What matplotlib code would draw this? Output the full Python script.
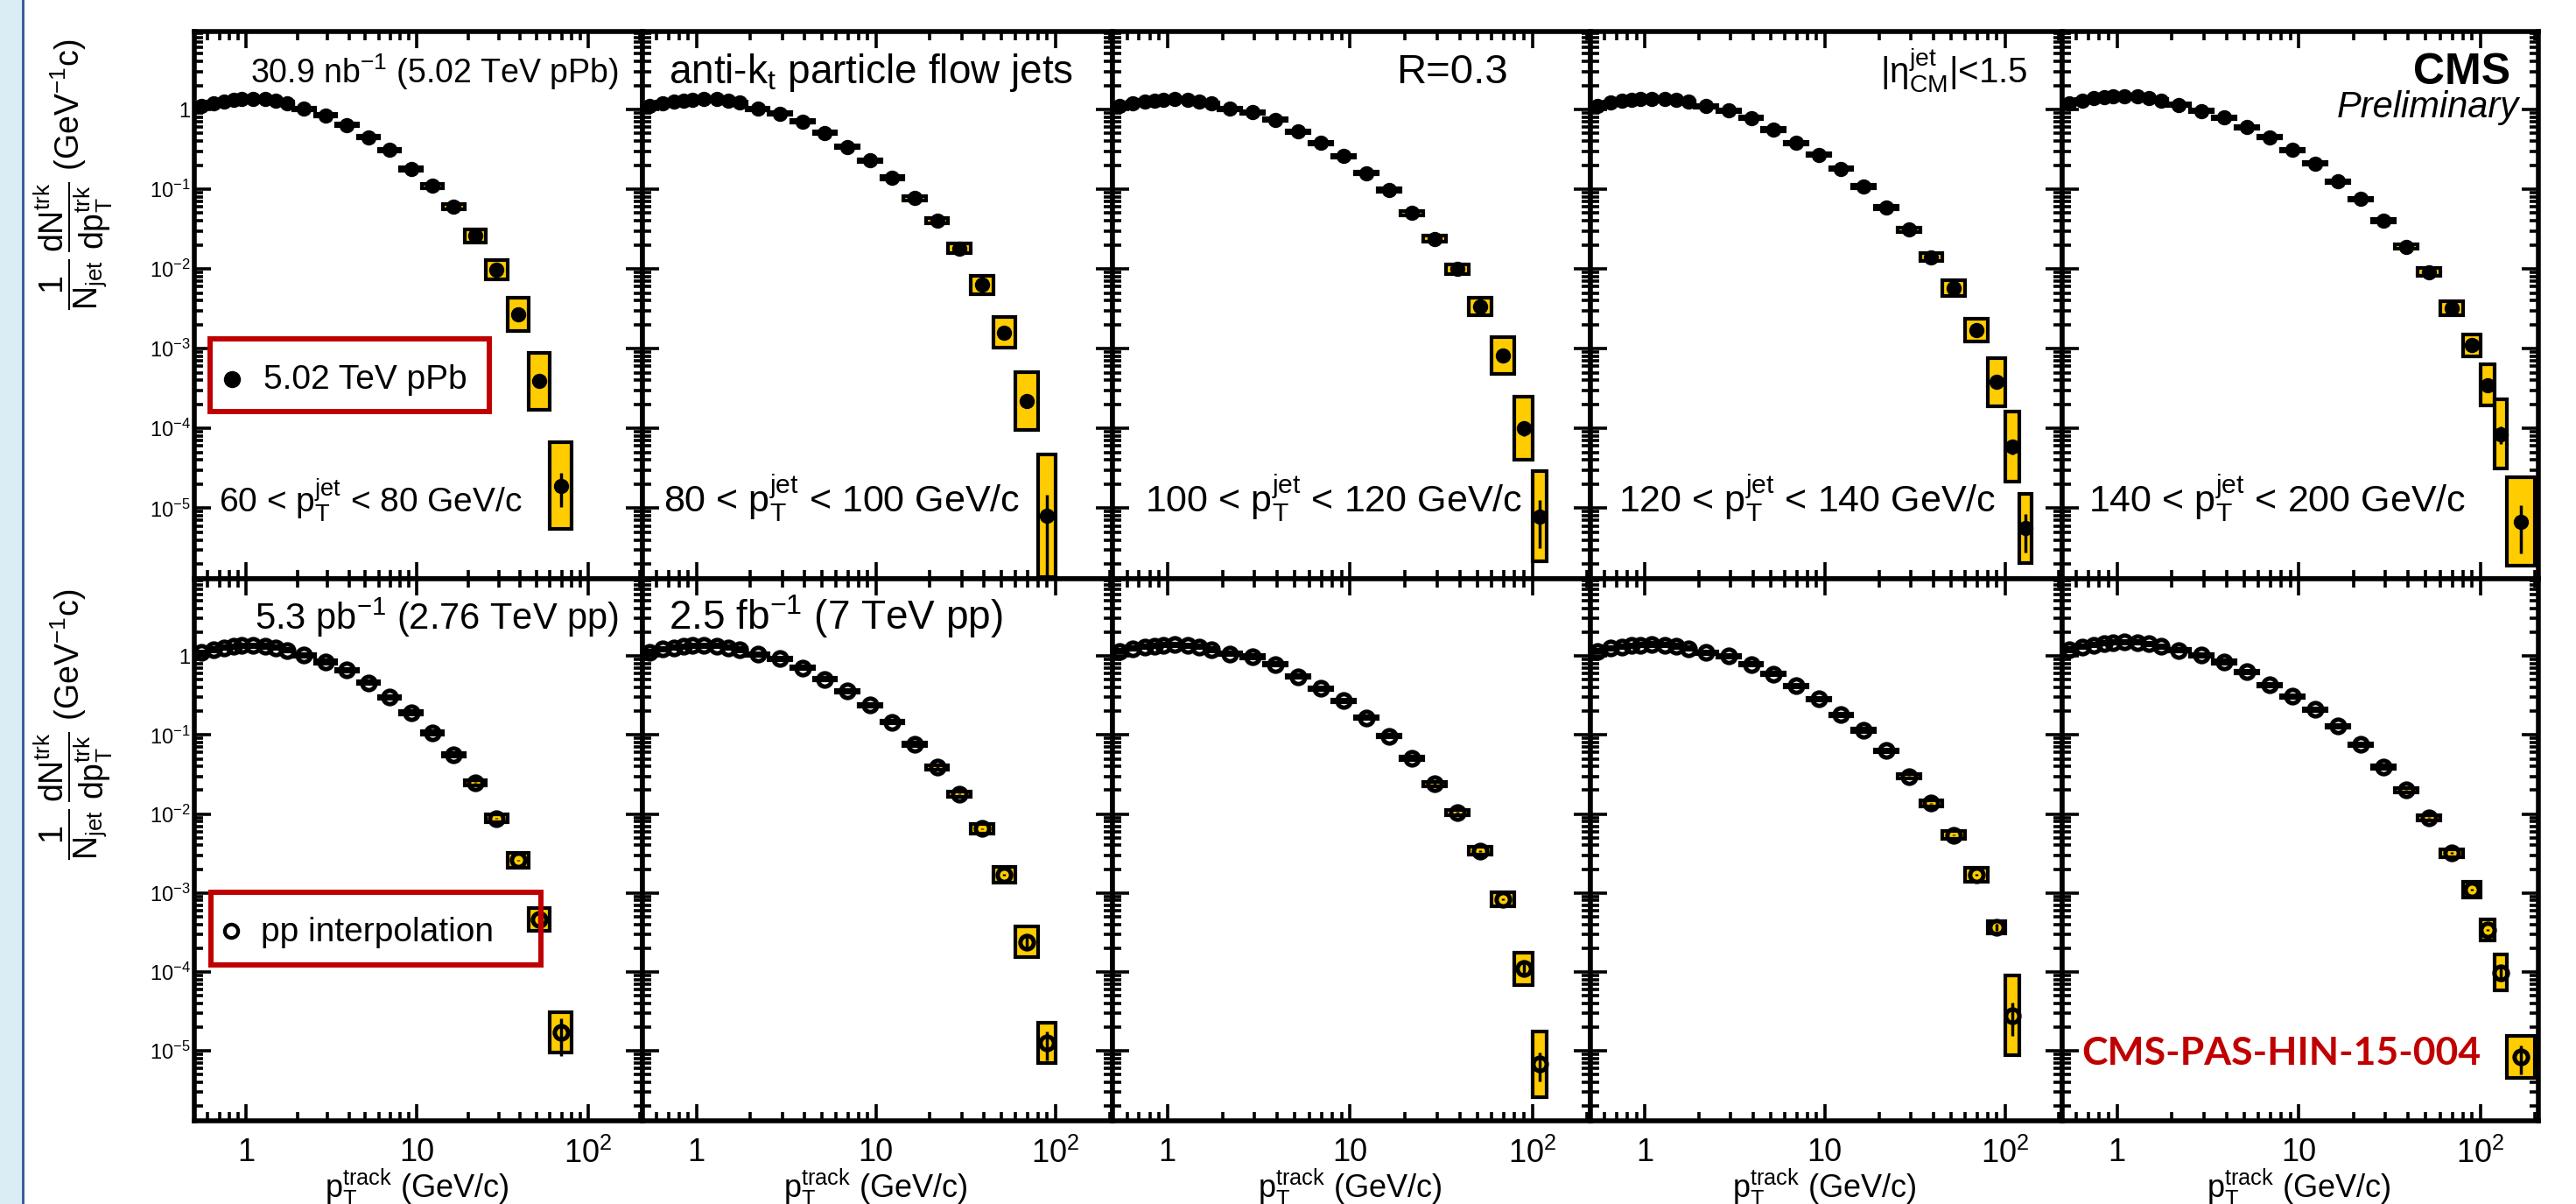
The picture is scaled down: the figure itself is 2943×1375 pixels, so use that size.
import numpy as np
import matplotlib
matplotlib.use("Agg")
import matplotlib.pyplot as plt
from matplotlib.patches import Rectangle
from matplotlib.lines import Line2D
from matplotlib.ticker import LogLocator, NullFormatter, FixedLocator, FixedFormatter
from matplotlib.transforms import blended_transform_factory

plt.rcParams['font.family'] = ['Liberation Sans', 'DejaVu Sans']
plt.rcParams['mathtext.fontset'] = 'custom'
plt.rcParams['mathtext.rm'] = 'Liberation Sans'
plt.rcParams['mathtext.it'] = 'Liberation Sans'
plt.rcParams['mathtext.bf'] = 'Liberation Sans:bold'
plt.rcParams['mathtext.sf'] = 'Liberation Sans'
plt.rcParams['mathtext.default'] = 'regular'

W, H = 2943, 1375

# track pT bin edges (GeV/c)
pt_edges = [0.5, 0.6, 0.7, 0.8, 0.9, 1.0, 1.2, 1.4, 1.6, 1.9, 2.53, 3.38, 4.5, 6.0, 8.0,
            10.7, 14.2, 19.0, 25.3, 33.8, 45.0, 60.0, 80.0, 100.0, 120.0, 140.0, 200.0]

jet_labels = ["60 < p$_{T}^{jet}$ < 80 GeV/c", "80 < p$_{T}^{jet}$ < 100 GeV/c",
              "100 < p$_{T}^{jet}$ < 120 GeV/c", "120 < p$_{T}^{jet}$ < 140 GeV/c",
              "140 < p$_{T}^{jet}$ < 200 GeV/c"]

# 1/Njet dN/dpT, pPb 5.02 TeV (top row)
ppb_60_80 = [1.10, 1.20, 1.27, 1.32, 1.35, 1.36, 1.34, 1.28, 1.20, 1.02, 0.84, 0.64, 0.45, 0.31,
             0.18, 0.11, 0.060, 0.026, 0.0098, 0.0027, 3.9e-4, 1.9e-5]
ppb_80_100 = [1.12, 1.20, 1.26, 1.30, 1.33, 1.35, 1.34, 1.30, 1.22, 1.02, 0.89, 0.71, 0.51, 0.34,
              0.23, 0.14, 0.077, 0.040, 0.018, 0.0063, 0.0016, 2.2e-4, 8.0e-6]
ppb_100_120 = [1.12, 1.20, 1.26, 1.30, 1.33, 1.35, 1.33, 1.27, 1.18, 1.02, 0.92, 0.74, 0.53, 0.38,
               0.26, 0.16, 0.097, 0.050, 0.024, 0.010, 0.0034, 8.2e-4, 1.0e-4, 7.9e-6]
ppb_120_140 = [1.12, 1.22, 1.28, 1.32, 1.35, 1.37, 1.36, 1.32, 1.25, 1.10, 0.97, 0.78, 0.56, 0.38,
               0.27, 0.18, 0.108, 0.059, 0.031, 0.014, 0.0058, 0.0017, 3.8e-4, 5.9e-5, 5.6e-6]
ppb_140_200 = [1.20, 1.30, 1.38, 1.43, 1.46, 1.48, 1.46, 1.40, 1.30, 1.14, 0.96, 0.79, 0.60, 0.45,
               0.31, 0.21, 0.125, 0.075, 0.040, 0.019, 0.0091, 0.0032, 0.0011, 3.5e-4, 8.5e-5, 6.8e-6]

# pp interpolation (bottom row)
pp_60_80 = [1.10, 1.20, 1.27, 1.32, 1.35, 1.36, 1.33, 1.27, 1.18, 1.02, 0.84, 0.66, 0.46, 0.30,
            0.19, 0.106, 0.056, 0.025, 0.0088, 0.0026, 4.6e-4, 1.7e-5]
pp_80_100 = [1.12, 1.22, 1.28, 1.32, 1.35, 1.36, 1.34, 1.28, 1.20, 1.05, 0.92, 0.71, 0.51, 0.36,
             0.24, 0.146, 0.076, 0.039, 0.018, 0.0065, 0.0017, 2.4e-4, 1.26e-5]
pp_100_120 = [1.15, 1.24, 1.30, 1.34, 1.37, 1.39, 1.36, 1.30, 1.20, 1.07, 0.98, 0.78, 0.55, 0.39,
              0.27, 0.166, 0.097, 0.051, 0.024, 0.0104, 0.0034, 8.3e-4, 1.1e-4, 6.8e-6]
pp_120_140 = [1.15, 1.25, 1.31, 1.35, 1.38, 1.40, 1.38, 1.33, 1.24, 1.10, 1.00, 0.78, 0.59, 0.42,
              0.285, 0.18, 0.114, 0.063, 0.030, 0.0136, 0.0054, 0.0017, 3.7e-4, 2.8e-5]
pp_140_200 = [1.20, 1.30, 1.38, 1.44, 1.48, 1.50, 1.48, 1.42, 1.32, 1.18, 1.02, 0.84, 0.63, 0.43,
              0.31, 0.21, 0.13, 0.076, 0.039, 0.020, 0.0090, 0.0032, 0.0011, 3.4e-4, 9.8e-5, 8.4e-6]

# systematic boxes: multiplicative half-height for the last bins (others too small to read)
small_sys = 1.04
ppb_sys = [[1.05, 1.06, 1.08, 1.20, 1.33, 1.6, 2.3, 3.5],
           [1.05, 1.06, 1.08, 1.15, 1.30, 1.55, 2.3, 5.9],
           [1.05, 1.06, 1.08, 1.15, 1.28, 1.7, 2.5, 3.7],
           [1.05, 1.07, 1.12, 1.25, 1.38, 2.0, 2.75, 2.7],
           [1.05, 1.07, 1.12, 1.22, 1.38, 1.8, 2.7, 3.6]]
pp_sys = [[1.05, 1.05, 1.06, 1.08, 1.12, 1.25, 1.4, 1.8],
          [1.05, 1.05, 1.06, 1.08, 1.15, 1.27, 1.55, 1.8],
          [1.05, 1.05, 1.06, 1.08, 1.12, 1.22, 1.6, 2.6],
          [1.05, 1.05, 1.06, 1.08, 1.12, 1.22, 1.2, 3.2],
          [1.05, 1.06, 1.08, 1.12, 1.25, 1.37, 1.68, 1.86]]
# relative statistical errors of the last two bins
small_stat = 0.02
ppb_stat = [[0.10, 0.45], [0.15, 0.85], [0.20, 0.60], [0.20, 0.50], [0.25, 0.60]]
pp_stat = [[0.10, 0.50], [0.15, 0.40], [0.20, 0.40], [0.10, 0.45], [0.15, 0.40]]

ppb_data = [ppb_60_80, ppb_80_100, ppb_100_120, ppb_120_140, ppb_140_200]
pp_data = [pp_60_80, pp_80_100, pp_100_120, pp_120_140, pp_140_200]

gold = '#FFCC00'
red = '#C00000'


def fx(p):
    return p / W


def fy(p):
    return 1 - p / H


def draw(ax, yvals, sys_tail, stat_tail, filled):
    n = len(yvals)
    lo = np.array(pt_edges[:n])
    hi = np.array(pt_edges[1:n + 1])
    x = np.sqrt(lo * hi)
    y = np.array(yvals)
    sysf = np.full(n, small_sys)
    sysf[n - len(sys_tail):] = sys_tail
    stat = np.full(n, small_stat)
    stat[n - len(stat_tail):] = stat_tail
    for i in range(n):
        ax.add_patch(Rectangle((lo[i], y[i] / sysf[i]), hi[i] - lo[i], y[i] * sysf[i] - y[i] / sysf[i],
                               fc=gold, ec='black', lw=3, zorder=2))
    if filled:
        ax.errorbar(x, y, yerr=stat * y, fmt='o', ms=11.5, mfc='black', mec='black', mew=1,
                    ecolor='black', elinewidth=2.5, capsize=0, zorder=3)
    else:
        ax.errorbar(x, y, yerr=stat * y, fmt='o', ms=11, mfc='none', mec='black', mew=3.6,
                    ecolor='black', elinewidth=2.5, capsize=0, zorder=3)


fig = plt.figure(figsize=(W / 100, H / 100), dpi=100)
gs = fig.add_gridspec(2, 5, left=fx(222), right=fx(2900), top=fy(36), bottom=fy(1280),
                      wspace=0, hspace=0, width_ratios=[512, 537, 546, 539, 544],
                      height_ratios=[625, 619])

# light blue slide strip at the left
fig.add_artist(Rectangle((0, 0), fx(25), 1, transform=fig.transFigure, fc='#DBEDF4', ec='none'))
fig.add_artist(Line2D([fx(26), fx(26)], [0, 1], transform=fig.transFigure, color='#2B5797', lw=2))

axes = np.empty((2, 5), dtype=object)
for r in range(2):
    for c in range(5):
        ax = fig.add_subplot(gs[r, c])
        axes[r, c] = ax
        ax.set_xscale('log')
        ax.set_yscale('log')
        if r == 0:
            draw(ax, ppb_data[c], ppb_sys[c], ppb_stat[c], True)
        else:
            draw(ax, pp_data[c], pp_sys[c], pp_stat[c], False)
        ax.set_xlim(0.5, 208)
        ax.set_ylim(1.3e-6, 9.5)
        ax.xaxis.set_major_locator(FixedLocator([1, 10, 100]))
        ax.xaxis.set_major_formatter(FixedFormatter(['1', '10', '$10^{2}$']))
        ax.xaxis.set_minor_locator(LogLocator(base=10, subs=np.arange(2, 10), numticks=50))
        ax.xaxis.set_minor_formatter(NullFormatter())
        ax.yaxis.set_major_locator(FixedLocator([1e-5, 1e-4, 1e-3, 1e-2, 1e-1, 1]))
        ax.yaxis.set_major_formatter(FixedFormatter(['$10^{-5}$', '$10^{-4}$', '$10^{-3}$',
                                                     '$10^{-2}$', '$10^{-1}$', '1']))
        ax.yaxis.set_minor_locator(LogLocator(base=10, subs=np.arange(2, 10), numticks=50))
        ax.yaxis.set_minor_formatter(NullFormatter())
        ax.tick_params(which='both', direction='in', top=True, right=True, width=2.6)
        ax.tick_params(which='major', length=13.5)
        ax.tick_params(which='minor', length=7)
        ax.tick_params(axis='x', which='major', labelsize=26, pad=14)
        ax.tick_params(axis='y', which='major', labelsize=17, pad=3)
        ax.tick_params(labelbottom=(r == 1), labelleft=(c == 0))
        for s in ax.spines.values():
            s.set_linewidth(4)
        if r == 1:
            ax.text(10, fy(1368), r'p$_{T}^{track}$ (GeV/c)', fontsize=26, ha='center', va='baseline',
                    transform=blended_transform_factory(ax.transData, fig.transFigure))

# y titles
ylab = r'$\dfrac{1}{N_{jet}}\,\dfrac{dN^{trk}}{dp_{T}^{trk}}$ (GeV$^{-1}$c)'
fig.text(fx(84), fy(44), ylab, rotation=90, ha='center', va='top', fontsize=27)
fig.text(fx(84), fy(672), ylab, rotation=90, ha='center', va='top', fontsize=27)

# panel annotations (ROOT text scales with pad size: first pad smaller)
fig.text(fx(707), fy(95), r'30.9 nb$^{-1}$ (5.02 TeV pPb)', fontsize=27, ha='right', va='baseline')
fig.text(fx(764), fy(95), r'anti-k$_{t}$ particle flow jets', fontsize=33, ha='left', va='baseline')
fig.text(fx(1723), fy(95), 'R=0.3', fontsize=34, ha='right', va='baseline')
fig.text(fx(2148), fy(95), r'|$\eta_{CM}^{jet}$|<1.5', fontsize=29, ha='left', va='baseline')
fig.text(fx(2868), fy(96), 'CMS', fontsize=36, fontweight='bold', ha='right', va='baseline')
fig.text(fx(2878), fy(134), 'Preliminary', fontsize=30, style='italic', ha='right', va='baseline')
for lbl, xl, fsz in zip(jet_labels, [250, 758, 1308, 1849, 2386], [28, 31, 31, 31, 31]):
    fig.text(fx(xl), fy(585), lbl, fontsize=fsz, ha='left', va='baseline')
fig.text(fx(707), fy(719), r'5.3 pb$^{-1}$ (2.76 TeV pp)', fontsize=30, ha='right', va='baseline')
fig.text(fx(764), fy(719), r'2.5 fb$^{-1}$ (7 TeV pp)', fontsize=33, ha='left', va='baseline')

# legends with red annotation boxes
fig.add_artist(Line2D([fx(265)], [fy(433)], transform=fig.transFigure, marker='o', ms=13,
                      mfc='black', mec='black', ls='none'))
fig.text(fx(301), fy(444), '5.02 TeV pPb', fontsize=28, ha='left', va='baseline')
fig.add_artist(Rectangle((fx(240), fy(470)), fx(559 - 240), (470 - 387) / H, transform=fig.transFigure,
                         fill=False, ec=red, lw=4.3, zorder=10))
fig.add_artist(Line2D([fx(264)], [fy(1063)], transform=fig.transFigure, marker='o', ms=11,
                      mfc='none', mec='black', mew=3, ls='none'))
fig.text(fx(298), fy(1075), 'pp interpolation', fontsize=28, ha='left', va='baseline')
fig.add_artist(Rectangle((fx(241), fy(1102)), fx(618 - 241), (1102 - 1019) / H, transform=fig.transFigure,
                         fill=False, ec=red, lw=4.3, zorder=10))

fig.text(fx(2378), fy(1216), 'CMS-PAS-HIN-15-004', fontsize=32, fontweight='bold', family='Lato',
         color=red, ha='left', va='baseline')

fig.savefig('out.png', dpi=100)
